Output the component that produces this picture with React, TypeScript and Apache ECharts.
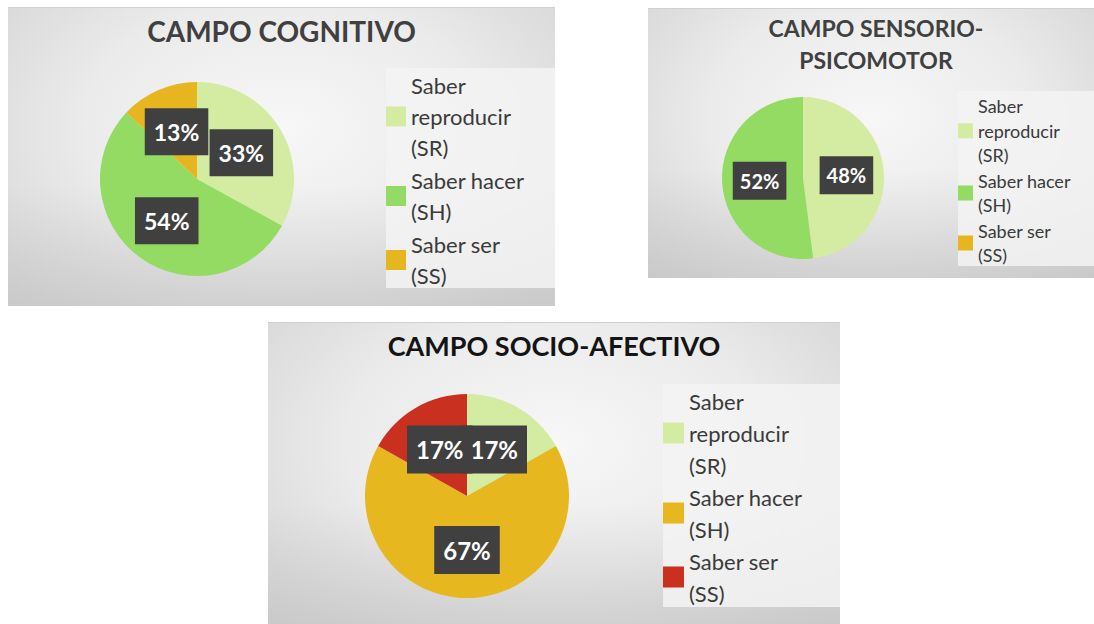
import React, { useEffect, useRef } from 'react';
import * as echarts from 'echarts';

// ---- Data ----
const categories = ['Saber\nreproducir\n(SR)', 'Saber hacer\n(SH)', 'Saber ser\n(SS)'];
const cognitivoValues = [33, 54, 13];
const sensorioValues = [48, 52, 0];
const socioValues = [17, 67, 17];
const cognitivoTitle = 'CAMPO COGNITIVO';
const sensorioTitle = 'CAMPO SENSORIO-\nPSICOMOTOR';
const socioTitle = 'CAMPO SOCIO-AFECTIVO';

const greenColors = ['#d4eba2', '#93db62', '#e7b51f'];
const socioColors = ['#d4eba2', '#e7b71f', '#c9301f'];

const FONT = 'Lato, "Open Sans", sans-serif';

type PanelCfg = {
  box: { left: number; top: number; width: number; height: number };
  title: string;
  titleLeft: number | string;
  titleTop: number;
  titleSize: number;
  titleLine: number;
  titleColor: string;
  values: number[];
  colors: string[];
  center: [number, number];
  radius: number;
  labelSize: number;
  labelPad: number[];
  legendLeft: number;
  legendTop: number;
  legendSize: number;
  legendLine: number;
  legendIcon: number;
  legendGap: number;
  legendBg: { x: number; y: number; w: number; h: number };
};

function buildOption(c: PanelCfg) {
  return {
    animation: false,
    title: {
      text: c.title,
      left: c.titleLeft,
      top: c.titleTop,
      textAlign: typeof c.titleLeft === 'number' ? 'center' : undefined,
      padding: 0,
      textStyle: {
        fontFamily: FONT,
        fontWeight: 'bold',
        fontSize: c.titleSize,
        lineHeight: c.titleLine,
        color: c.titleColor,
      },
    },
    graphic: [
      {
        type: 'rect',
        z: -1,
        silent: true,
        shape: { x: c.legendBg.x, y: c.legendBg.y, width: c.legendBg.w, height: c.legendBg.h },
        style: { fill: 'rgba(243,243,243,0.85)' },
      },
    ],
    legend: {
      orient: 'vertical',
      left: c.legendLeft,
      top: c.legendTop,
      padding: 0,
      itemGap: c.legendGap,
      itemWidth: c.legendIcon,
      itemHeight: c.legendIcon,
      icon: 'rect',
      selectedMode: false,
      data: categories,
      textStyle: {
        fontFamily: FONT,
        fontSize: c.legendSize,
        lineHeight: c.legendLine,
        color: '#3a3a3a',
      },
    },
    series: [
      {
        type: 'pie',
        silent: true,
        center: c.center,
        radius: c.radius,
        startAngle: 90,
        clockwise: true,
        avoidLabelOverlap: false,
        emphasis: { disabled: true },
        labelLine: { show: false },
        labelLayout: { hideOverlap: false },
        label: {
          position: 'inside',
          formatter: (p: any) => p.value + '%',
          backgroundColor: '#404040',
          color: '#ffffff',
          fontFamily: FONT,
          fontWeight: 'bold',
          fontSize: c.labelSize,
          padding: c.labelPad,
        },
        data: categories.map((name, i) => ({
          name,
          value: c.values[i],
          itemStyle: { color: c.colors[i] },
          label: c.values[i] === 0 ? { show: false } : undefined,
        })),
      },
    ],
  };
}

const panels: PanelCfg[] = [
  {
    box: { left: 8, top: 7, width: 547, height: 299 },
    title: cognitivoTitle,
    titleLeft: 'center',
    titleTop: 6,
    titleSize: 28,
    titleLine: 34,
    titleColor: '#404040',
    values: cognitivoValues,
    colors: greenColors,
    center: [189, 171],
    radius: 97,
    labelSize: 23,
    labelPad: [12, 9],
    legendLeft: 378,
    legendTop: 62,
    legendSize: 22,
    legendLine: 31,
    legendIcon: 20,
    legendGap: 2,
    legendBg: { x: 378, y: 60, w: 169, h: 220 },
  },
  {
    box: { left: 648, top: 8, width: 446, height: 270 },
    title: sensorioTitle,
    titleLeft: 228,
    titleTop: 3,
    titleSize: 23,
    titleLine: 32,
    titleColor: '#404040',
    values: sensorioValues,
    colors: greenColors,
    center: [155, 169],
    radius: 81,
    labelSize: 20,
    labelPad: [9, 7],
    legendLeft: 310,
    legendTop: 85,
    legendSize: 18,
    legendLine: 24.5,
    legendIcon: 15,
    legendGap: 1,
    legendBg: { x: 310, y: 82, w: 136, h: 175 },
  },
  {
    box: { left: 268, top: 322, width: 572, height: 302 },
    title: socioTitle,
    titleLeft: 'center',
    titleTop: 5,
    titleSize: 27,
    titleLine: 34,
    titleColor: '#141414',
    values: socioValues,
    colors: socioColors,
    center: [199, 173],
    radius: 102,
    labelSize: 24,
    labelPad: [12, 9],
    legendLeft: 395,
    legendTop: 62,
    legendSize: 22,
    legendLine: 32,
    legendIcon: 21,
    legendGap: 0,
    legendBg: { x: 395, y: 61, w: 177, h: 223 },
  },
];

const panelBackground =
  'linear-gradient(to bottom, rgba(190,190,190,0) 0%, rgba(190,190,190,0) 60%, rgba(190,190,190,0.45) 100%), ' +
  'radial-gradient(ellipse 72% 85% at 50% 40%, #f7f7f7 0%, #ebebeb 50%, #d2d2d2 100%)';

function Panel({ cfg }: { cfg: PanelCfg }) {
  const ref = useRef<HTMLDivElement>(null);
  useEffect(() => {
    if (!ref.current) return;
    const chart = echarts.init(ref.current, undefined, { renderer: 'svg' });
    chart.setOption(buildOption(cfg) as any);
    return () => chart.dispose();
  }, [cfg]);
  return (
    <div
      style={{
        position: 'absolute',
        left: cfg.box.left,
        top: cfg.box.top,
        width: cfg.box.width,
        height: cfg.box.height,
        background: panelBackground,
        borderTop: '1px solid #d0d0d0',
        boxSizing: 'border-box',
      }}
    >
      <div ref={ref} style={{ width: cfg.box.width, height: cfg.box.height - 1 }} />
    </div>
  );
}

export default function App() {
  return (
    <div
      style={{
        position: 'absolute',
        left: 0,
        top: 0,
        width: 1094,
        height: 624,
        overflow: 'hidden',
        background: '#ffffff',
      }}
    >
      {panels.map((p, i) => (
        <Panel key={i} cfg={p} />
      ))}
    </div>
  );
}
